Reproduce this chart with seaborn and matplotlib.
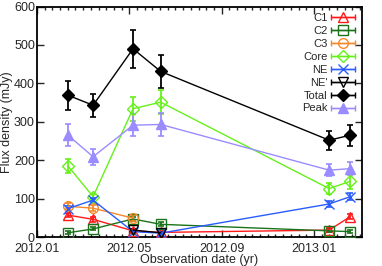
import numpy as np
import seaborn as sns
import matplotlib.pyplot as plt
from matplotlib.ticker import MultipleLocator, FixedLocator
from matplotlib.legend_handler import HandlerErrorbar

# Observation epochs, in months after 2012.01
obs_month = [1.34, 2.43, 4.16, 5.36, 12.66, 13.57]
tick_month = [0, 4, 8, 12]
tick_labels = ["2012.01", "2012.05", "2012.09", "2013.01"]

# Flux densities (mJy) and errors
c1 = [57, 46, 16, 12, 18, 53]
c1_err = [6, 6, 4, 4, 5, 7]
c2 = [11, 21, 47, 33, 16, 14]
c2_err = [4, 4, 5, 5, 4, 4]
c3 = [80, 75, 49]
c3_err = [8, 8, 8]
core = [185, 105, 334, 351, 126, 145]
core_err = [19, 6, 31, 32, 15, 19]
ne = [74, 96, 14, 10, 86, 105]
ne_err = [6, 6, 4, 4, 8, 9]
ne2 = [18, 11]
ne2_err = [4, 3]
total = [369, 343, 490, 431, 252, 265]
total_err = [38, 30, 49, 44, 25, 27]
peak = [265, 209, 291, 293, 174, 178]
peak_err = [28, 21, 29, 29, 15, 17]

series = [
    # label, x, y, err, color, marker, filled
    ("C1", obs_month, c1, c1_err, "#ff1a1a", "^", False),
    ("C2", obs_month, c2, c2_err, "#1a731a", "s", False),
    ("C3", obs_month[:3], c3, c3_err, "#f5892a", "o", False),
    ("Core", obs_month, core, core_err, "#66f01a", "D", False),
    ("NE", obs_month, ne, ne_err, "#2a5cff", "x", False),
    ("NE'", obs_month[2:4], ne2, ne2_err, "black", "v", False),
    ("Total", obs_month, total, total_err, "black", "D", True),
    ("Peak", obs_month, peak, peak_err, "#9a8cff", "^", True),
]

sns.set_style("ticks")
plt.rcParams["font.family"] = ["Liberation Sans", "DejaVu Sans"]

fig = plt.figure(figsize=(3.82, 2.66), dpi=100)
ax = fig.add_axes([0.0969, 0.109, 0.850, 0.8665])

handles = []
for label, x, y, err, col, mk, filled in series:
    ms = 6 if mk == "D" else 7
    mfc = col if filled else "none"
    ax.errorbar(x, y, yerr=err, fmt="none", ecolor=col, elinewidth=1.3,
                capsize=2, capthick=1.2, zorder=2)
    sns.lineplot(x=x, y=y, ax=ax, color=col, marker=mk, markersize=ms,
                 markerfacecolor=mfc, markeredgecolor=col, markeredgewidth=1.0,
                 linewidth=1.0, sort=False, legend=False, zorder=3)
    # proxy for the legend key
    h = ax.errorbar([np.nan], [np.nan], xerr=[1], fmt="-", marker=mk, color=col,
                    ms=ms, mfc=mfc, mec=col, mew=1.0, lw=1.0, elinewidth=1.0,
                    capsize=2, label=label)
    handles.append(h)

ax.set_xlim(0, 14.07)
ax.set_ylim(0, 600)
ax.xaxis.set_major_locator(FixedLocator(tick_month))
ax.set_xticklabels(tick_labels)
ax.xaxis.set_minor_locator(MultipleLocator(1 / 3))
ax.yaxis.set_major_locator(MultipleLocator(100))

ax.tick_params(which="both", direction="in", top=True, right=True,
               labelsize=9, width=1)
ax.tick_params(axis="x", pad=4.5)
ax.tick_params(axis="y", pad=1.5)
ax.tick_params(which="major", length=5)
ax.tick_params(which="minor", length=2.5)
for s in ax.spines.values():
    s.set_linewidth(1.3)
    s.set_color("black")

ax.set_xlabel("Observation date (yr)", fontsize=9, labelpad=-1)
ax.set_ylabel("Flux density (mJy)", fontsize=9, labelpad=1)

ax.legend(handles=handles, loc="upper right", frameon=False, fontsize=8,
          markerfirst=False, numpoints=1, handlelength=2.2, handletextpad=0.3,
          labelspacing=0.26, borderaxespad=0.35, borderpad=0.25,
          handler_map={type(handles[0]): HandlerErrorbar(xerr_size=1.1)})

fig.savefig("out.png", dpi=100)
